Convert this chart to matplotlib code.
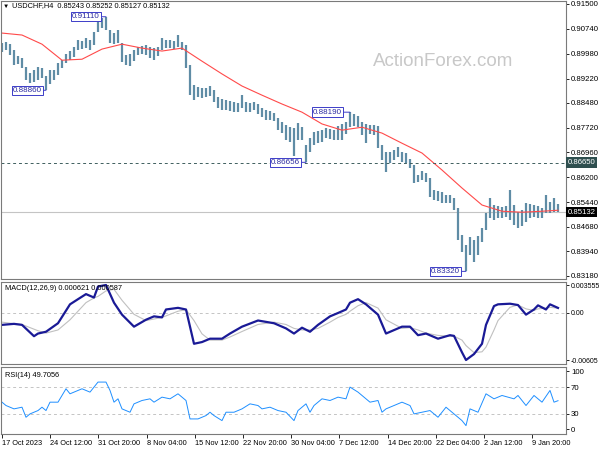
import numpy as np
import matplotlib
matplotlib.use("Agg")
import matplotlib.pyplot as plt
from matplotlib.transforms import blended_transform_factory

plt.rcParams['font.family'] = ['Liberation Sans', 'DejaVu Sans']

# ---- price bars (each entry ~3 H4 bars) ----
highs = [0.9031, 0.9034, 0.9028, 0.9009, 0.8991, 0.8985, 0.8957, 0.8939, 0.8948, 0.8957,
         0.8954, 0.8929, 0.8948, 0.8948, 0.8969, 0.8978, 0.8997, 0.9006, 0.9018, 0.9040,
         0.9037, 0.9046, 0.9040, 0.9064, 0.9108, 0.9107, 0.9111, 0.9070, 0.9061, 0.9070,
         0.9031, 0.8994, 0.8997, 0.9009, 0.9018, 0.9021, 0.9024, 0.9018, 0.9015, 0.9018,
         0.9046, 0.9040, 0.9040, 0.9037, 0.9055, 0.9034, 0.9024, 0.8963, 0.8902, 0.8896,
         0.8893, 0.8893, 0.8899, 0.8887, 0.8865, 0.8859, 0.8856, 0.8853, 0.8850, 0.8847,
         0.8871, 0.8850, 0.8847, 0.8850, 0.8844, 0.8832, 0.8825, 0.8822, 0.8816, 0.8801,
         0.8789, 0.8780, 0.8773, 0.8770, 0.8786, 0.8773, 0.8718, 0.8740, 0.8758, 0.8761,
         0.8764, 0.8770, 0.8767, 0.8764, 0.8776, 0.8783, 0.8789, 0.8819, 0.8813, 0.8807,
         0.8789, 0.8783, 0.8780, 0.8780, 0.8776, 0.8718, 0.8697, 0.8697, 0.8703, 0.8712,
         0.8697, 0.8694, 0.8675, 0.8657, 0.8627, 0.8639, 0.8633, 0.8617, 0.8581, 0.8578,
         0.8575, 0.8565, 0.8565, 0.8556, 0.8526, 0.8443, 0.8412, 0.8437, 0.8428, 0.8440,
         0.8464, 0.8510, 0.8556, 0.8535, 0.8532, 0.8529, 0.8532, 0.8581, 0.8535, 0.8513,
         0.8519, 0.8541, 0.8538, 0.8535, 0.8532, 0.8526, 0.8565, 0.8544, 0.8556, 0.8538]
lows = [0.9003, 0.9009, 0.8994, 0.8963, 0.8966, 0.8954, 0.8917, 0.8908, 0.8911, 0.8917,
        0.8923, 0.8886, 0.8905, 0.8917, 0.8933, 0.8954, 0.8969, 0.8978, 0.8988, 0.9009,
        0.9012, 0.9015, 0.9009, 0.9024, 0.9064, 0.9076, 0.9070, 0.9031, 0.9028, 0.9031,
        0.8972, 0.8963, 0.8960, 0.8975, 0.8994, 0.8997, 0.8994, 0.8985, 0.8978, 0.8991,
        0.9009, 0.9015, 0.9015, 0.9012, 0.9018, 0.9009, 0.8954, 0.8871, 0.8856, 0.8865,
        0.8862, 0.8865, 0.8868, 0.8850, 0.8832, 0.8825, 0.8825, 0.8822, 0.8819, 0.8819,
        0.8832, 0.8819, 0.8819, 0.8825, 0.8813, 0.8804, 0.8795, 0.8795, 0.8792, 0.8764,
        0.8755, 0.8734, 0.8727, 0.8685, 0.8734, 0.8734, 0.86656, 0.8697, 0.8718, 0.8724,
        0.8727, 0.8740, 0.8737, 0.8734, 0.8734, 0.8734, 0.8752, 0.8773, 0.8776, 0.8773,
        0.8749, 0.8724, 0.8752, 0.8749, 0.8709, 0.8672, 0.8636, 0.8663, 0.8672, 0.8682,
        0.8666, 0.8663, 0.8648, 0.8602, 0.8605, 0.8611, 0.8605, 0.8559, 0.8550, 0.8547,
        0.8541, 0.8541, 0.8541, 0.8519, 0.8428, 0.8391, 0.8332, 0.8382, 0.8360, 0.8382,
        0.8421, 0.8458, 0.8495, 0.8489, 0.8495, 0.8495, 0.8498, 0.8489, 0.8474, 0.8464,
        0.8470, 0.8483, 0.8495, 0.8498, 0.8495, 0.8495, 0.8510, 0.8510, 0.8513, 0.8513]

# moving average (red)
ma_idx = list(range(0, 140, 5)) + [139]
ma_vals = [0.9061, 0.9055, 0.9027, 0.8978, 0.8981, 0.9012, 0.9027, 0.9015, 0.9006, 0.9015,
           0.8975, 0.8936, 0.8899, 0.8871, 0.8844, 0.8819, 0.8783, 0.8764, 0.8773, 0.8755,
           0.8724, 0.8694, 0.8642, 0.8587, 0.8535, 0.8516, 0.8513, 0.8516, 0.8519]

header_ohlc = [0.85243, 0.85252, 0.85127, 0.85132]
last_price = 0.85132
hline_price = 0.86650
# (bar index, value, gap to the bar) of the marked swing points
swing_labels = [(26, 0.9111, 6), (11, 0.8886, 4), (87, 0.8819, 8), (76, 0.86656, 6), (116, 0.8332, 6)]
price_ticks = [0.91500, 0.90740, 0.89980, 0.89220, 0.88480, 0.87720,
               0.86960, 0.86200, 0.85440, 0.84680, 0.83940, 0.83180]

# ---- MACD(12,26,9) ----
macd_idx = [0, 3, 5, 8, 9, 11, 14, 17, 19, 21, 23, 24, 26, 28, 30, 33, 36, 38, 40, 41,
            44, 46, 48, 50, 52, 55, 57, 60, 64, 68, 71, 73, 75, 77, 79, 82, 84, 86, 87, 89,
            91, 94, 96, 100, 102, 104, 106, 109, 112, 113, 115, 116, 118, 120, 121, 123, 124, 127, 129, 131,
            133, 134, 136, 137, 139]
macd_main = [-0.00155, -0.00142, -0.00155, -0.00300, -0.00266, -0.00243, -0.00134, 0.00108, 0.00174, 0.00239,
             0.00195, 0.00336, 0.003555, 0.00129, -0.00024, -0.00178, -0.00089, -0.00046, -0.00059, 0.00042,
             0.00063, 0.00042, -0.00397, -0.00375, -0.00332, -0.00332, -0.00266, -0.00178, -0.00099, -0.00134,
             -0.00200, -0.00266, -0.00191, -0.00243, -0.00155, -0.00046, -0.00003, 0.00042, 0.00129, 0.00174,
             0.00108, -0.00024, -0.00266, -0.00178, -0.00178, -0.00287, -0.00266, -0.00332, -0.00287, -0.00296,
             -0.00507, -0.00605, -0.00529, -0.00397, -0.00155, 0.00086, 0.00108, 0.00116, 0.00099, -0.00024,
             0.00042, 0.00095, 0.00042, 0.00108, 0.000621]
macd_signal = [-0.0012, -0.0014, -0.0015, -0.0021, -0.0023, -0.0026, -0.0022, -0.0009, 0.0002, 0.0013,
               0.0019, 0.0021, 0.0028, 0.0030, 0.0016, -0.0002, -0.0010, -0.0008, -0.0006, -0.0004,
               0.0002, 0.0004, -0.0010, -0.0027, -0.0035, -0.0035, -0.0031, -0.0024, -0.0015, -0.0012,
               -0.0015, -0.0020, -0.0022, -0.0022, -0.0020, -0.0012, -0.0006, -0.0002, 0.0002, 0.0009,
               0.0013, 0.0006, -0.0009, -0.0020, -0.0019, -0.0022, -0.0026, -0.0029, -0.0030, -0.0030,
               -0.0035, -0.0042, -0.0051, -0.0050, -0.0044, -0.0022, -0.0010, 0.0007, 0.0010, 0.0005,
               0.0003, 0.0005, 0.0006, 0.0007, 0.000587]

# ---- RSI(14) ----
rsi_idx = [0, 1, 3, 5, 6, 7, 9, 10, 11, 12, 14, 15, 16, 17, 19, 20, 21, 22, 24, 26,
           27, 28, 29, 30, 32, 33, 35, 37, 38, 40, 42, 44, 46, 47, 49, 51, 52, 53, 55, 56,
           58, 60, 62, 64, 65, 67, 69, 71, 73, 74, 76, 77, 78, 80, 82, 84, 86, 87, 89, 90,
           92, 94, 95, 96, 98, 100, 102, 103, 105, 107, 109, 111, 113, 115, 116, 117, 119, 121, 123, 125,
           128, 129, 131, 133, 135, 137, 138, 139]
rsi_vals = [47.5, 42.5, 37.5, 40, 25, 30, 35, 40, 35, 47.5, 47.5, 57.5, 67.5, 60, 65, 67.5, 65, 62.5, 77.5, 77.5,
            65, 47.5, 52.5, 37.5, 32.5, 45, 50, 52.5, 47.5, 55, 52.5, 60, 50, 22.5, 22.5, 27.5, 32.5, 27.5, 20, 32.5,
            32.5, 37.5, 45, 42.5, 37.5, 40, 35, 32.5, 20, 35, 45, 32.5, 42.5, 52.5, 50, 55, 52.5, 70, 62.5, 57.5,
            47.5, 50, 32.5, 37.5, 42.5, 47.5, 42.5, 30, 32.5, 35, 25, 40, 30, 20, 12.5, 37.5, 32.5, 60, 52.5, 57.5,
            52.5, 57.5, 42.5, 57.5, 47.5, 65, 47.5, 49.7056]

date_labels = ["17 Oct 2023", "24 Oct 12:00", "31 Oct 20:00", "8 Nov 04:00", "15 Nov 12:00",
               "22 Nov 20:00", "30 Nov 04:00", "7 Dec 12:00", "14 Dec 20:00", "22 Dec 04:00",
               "2 Jan 12:00", "9 Jan 20:00"]

W, H = 600, 450
fig = plt.figure(figsize=(6, 4.5), dpi=100)


def px_axes(x0, y0, x1, y1):
    return fig.add_axes([x0 / W, 1 - y1 / H, (x1 - x0) / W, (y1 - y0) / H])


def style(a):
    for s in a.spines.values():
        s.set_color('#7a7a7a')
        s.set_linewidth(0.8)
    a.yaxis.tick_right()
    a.tick_params(axis='y', labelsize=5.6, length=2, width=0.6, pad=1.5, colors='black')
    a.tick_params(axis='x', length=0)
    a.set_xticks([])
    a.set_xlim(-0.25, 141)


ax = px_axes(1, 1, 566, 279)
ax_m = px_axes(1, 282, 566, 364)
ax_r = px_axes(1, 367, 566, 434)
for a in (ax, ax_m, ax_r):
    style(a)

# main price panel
idx = np.arange(len(highs))
ax.vlines(idx, lows, highs, color='#5f8ca5', lw=1.6)
ax.plot(ma_idx, ma_vals, color='#ff4a4a', lw=0.8)
ax.axhline(last_price, color='#c4c4c4', lw=0.8, zorder=0)
ax.axhline(hline_price, color='#3e5e5e', lw=0.7, ls=(0, (3, 3)))
ax.set_ylim(0.83087, 0.91591)
ax.set_yticks(price_ticks)
ax.set_yticklabels([f"{v:.5f}" for v in price_ticks])

ytr = blended_transform_factory(ax.transAxes, ax.transData)
ax.text(1.003, hline_price, f"{hline_price:.5f}", transform=ytr, fontsize=5.6, color='white',
        va='center', ha='left', bbox=dict(boxstyle='square,pad=0.2', fc='#2f4f4f', ec='none'))
ax.text(1.003, last_price, f"{last_price:.5f}", transform=ytr, fontsize=5.6, color='white',
        va='center', ha='left', bbox=dict(boxstyle='square,pad=0.2', fc='black', ec='none'))

for i, v, dx in swing_labels:
    ax.annotate(f"{v:.5f}", xy=(i, v), xytext=(-dx, 0), textcoords='offset pixels',
                ha='right', va='center', fontsize=5.8, color='#2a2aa0',
                bbox=dict(boxstyle='square,pad=0.15', fc='white', ec='#3c3cc8', lw=0.7),
                arrowprops=dict(arrowstyle='-', color='#3c3cc8', lw=0.7, shrinkA=0, shrinkB=0))

fig.text(3 / W, 1 - 6 / H, "\u25bc", fontsize=4.5, va='center', ha='left')
fig.text(12 / W, 1 - 6 / H, "USDCHF,H4  " + " ".join(f"{v:.5f}" for v in header_ohlc),
         fontsize=5.3, va='center', ha='left')
fig.text(443 / W, 1 - 62 / H, "ActionForex.com", fontsize=13.5, color='#c8c8c8',
         ha='center', va='center')

# MACD panel
ax_m.plot(macd_idx, macd_signal, color='#c0c0c0', lw=0.8)
ax_m.plot(macd_idx, macd_main, color='#1a1a96', lw=1.6)
ax_m.axhline(0, color='#c4c4c4', lw=0.7, ls=(0, (3, 3)), zorder=0)
ax_m.set_ylim(-0.00656, 0.00394)
ax_m.set_yticks([0.003555, 0.0, -0.00605])
ax_m.set_yticklabels(["0.003555", "0.00", "-0.00605"])
ax_m.tick_params(axis='y', labelsize=5.0, pad=1.2)
ax_m.text(4 / 565, 0.96, f"MACD(12,26,9) {macd_main[-1]:.6f} {macd_signal[-1]:.6f}",
          transform=ax_m.transAxes, fontsize=5.3, va='top', ha='left')

# RSI panel
ax_r.plot(rsi_idx, rsi_vals, color='#1e8fff', lw=0.7)
for lvl in (70, 30):
    ax_r.axhline(lvl, color='#c4c4c4', lw=0.7, ls=(0, (3, 3)), zorder=0)
ax_r.set_ylim(0, 100)
ax_r.set_yticks([94, 70, 30, 7])
ax_r.set_yticklabels(["100", "70", "30", "0"])
ax_r.text(4 / 565, 0.93, f"RSI(14) {rsi_vals[-1]:.4f}", transform=ax_r.transAxes,
          fontsize=5.3, va='top', ha='left')

ax_r.set_xticks(np.arange(len(date_labels)) * 12.05)
ax_r.set_xticklabels(date_labels)
ax_r.tick_params(axis='x', length=3, width=0.6, labelsize=5.3, pad=1.5, colors='black')
for lbl in ax_r.get_xticklabels():
    lbl.set_ha('left')

fig.savefig("out.png", dpi=100, facecolor='white')
